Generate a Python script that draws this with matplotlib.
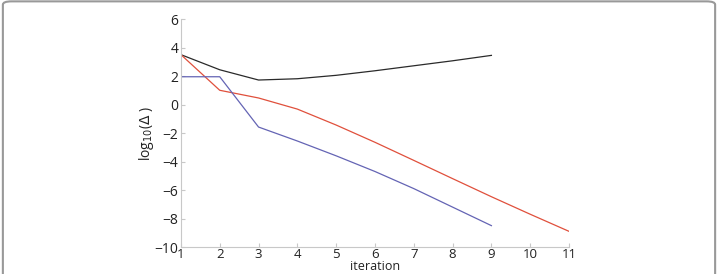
import matplotlib.pyplot as plt
from matplotlib.patches import FancyBboxPatch

plt.rcParams['font.family'] = ['Open Sans', 'DejaVu Sans']

iters_black = [1, 2, 3, 4, 5, 6, 7, 8, 9]
delta_black = [3.5, 2.44, 1.72, 1.81, 2.05, 2.37, 2.72, 3.07, 3.45]

iters_red = [1, 2, 3, 4, 5, 6, 7, 8, 9, 10, 11]
delta_red = [3.5, 1.0, 0.46, -0.32, -1.44, -2.65, -3.92, -5.2, -6.47, -7.7, -8.9]

iters_blue = [1, 2, 3, 4, 5, 6, 7, 8, 9]
delta_blue = [1.95, 1.95, -1.58, -2.56, -3.6, -4.7, -5.9, -7.2, -8.5]

xticks = list(range(1, 12))
yticks = list(range(-10, 7, 2))

fig = plt.figure(figsize=(7.18, 2.74), dpi=100)
ax = fig.add_axes([0.252, 0.0985, 0.5405, 0.832])

ax.plot(iters_black, delta_black, color='#2a2a2a', lw=0.9)
ax.plot(iters_red, delta_red, color='#e0503c', lw=0.9)
ax.plot(iters_blue, delta_blue, color='#6464b4', lw=0.9)

ax.set_xlim(1, 11)
ax.set_ylim(-10, 6)
ax.set_xticks(xticks)
ax.set_yticks(yticks)
ax.set_yticklabels([str(v).replace('-', '\u2212') for v in yticks])
for s in ['top', 'right']:
    ax.spines[s].set_visible(False)
for s in ['left', 'bottom']:
    ax.spines[s].set_color('#c8c8c8')
    ax.spines[s].set_linewidth(0.8)
ax.tick_params(direction='in', length=3, color='#c8c8c8', labelsize=10,
               labelcolor='#222222', pad=2)
ax.tick_params(axis='x', pad=0.5, labelsize=9.5)

# x label sits right at the bottom edge, as in the original
fig.text(0.5225, 0.002, 'iteration', ha='center', va='bottom',
         fontsize=9, color='#222222')
ax.set_ylabel(r'log$_{10}$($\Delta$ )', fontsize=10, color='#222222', labelpad=-1)

border = FancyBboxPatch((0.004, -0.1), 0.992, 1.095, transform=fig.transFigure,
                        boxstyle='round,pad=0,rounding_size=0.012',
                        fill=False, edgecolor='#999999', lw=1.5)
fig.patches.append(border)

fig.savefig('out.png', dpi=100)
